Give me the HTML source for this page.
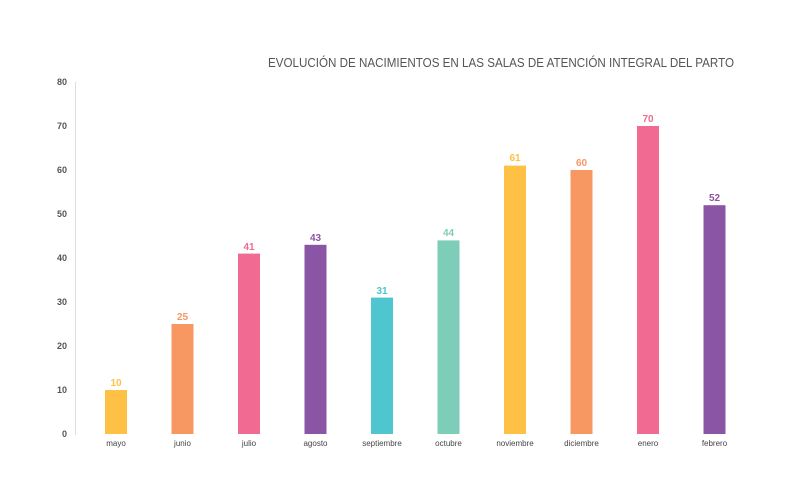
<!DOCTYPE html>
<html><head><meta charset="utf-8"><style>
html,body{margin:0;padding:0;background:#fff;}
svg{display:block;font-family:"Liberation Sans",sans-serif;}
</style></head><body>
<svg width="800" height="503" viewBox="0 0 800 503" xmlns="http://www.w3.org/2000/svg">
<text x="501" y="67" text-anchor="middle" font-size="13" fill="#555" textLength="466" lengthAdjust="spacingAndGlyphs">EVOLUCIÓN DE NACIMIENTOS EN LAS SALAS DE ATENCIÓN INTEGRAL DEL PARTO</text>
<line x1="75.5" y1="82" x2="75.5" y2="435" stroke="#ddd" stroke-width="1"/>
<g font-size="9" fill="#555" text-anchor="end" font-weight="bold">
<text x="67" y="437">0</text><text x="67" y="393">10</text><text x="67" y="349">20</text><text x="67" y="305">30</text><text x="67" y="261">40</text><text x="67" y="217">50</text><text x="67" y="173">60</text><text x="67" y="129">70</text><text x="67" y="85">80</text>
</g>
<g>
<rect x="105" y="390" width="22" height="44" fill="#FFC145"/>
<rect x="171.5" y="324" width="22" height="110" fill="#F79862"/>
<rect x="238" y="253.6" width="22" height="180.4" fill="#F06A91"/>
<rect x="304.5" y="244.8" width="22" height="189.2" fill="#8B55A6"/>
<rect x="371" y="297.6" width="22" height="136.4" fill="#4EC5CF"/>
<rect x="437.5" y="240.4" width="22" height="193.6" fill="#7ECDB8"/>
<rect x="504" y="165.6" width="22" height="268.4" fill="#FFC145"/>
<rect x="570.5" y="170" width="22" height="264" fill="#F79862"/>
<rect x="637" y="126" width="22" height="308" fill="#F06A91"/>
<rect x="703.5" y="205.2" width="22" height="228.8" fill="#8B55A6"/>
</g>
<g font-size="10" text-anchor="middle" font-weight="bold">
<text x="116" y="386" fill="#FFC145">10</text>
<text x="182.5" y="320" fill="#F79862">25</text>
<text x="249" y="250" fill="#F06A91">41</text>
<text x="315.5" y="241" fill="#8B55A6">43</text>
<text x="382" y="294" fill="#4EC5CF">31</text>
<text x="448.5" y="236" fill="#7ECDB8">44</text>
<text x="515" y="161" fill="#FFC145">61</text>
<text x="581.5" y="166" fill="#F79862">60</text>
<text x="648" y="122" fill="#F06A91">70</text>
<text x="714.5" y="201" fill="#8B55A6">52</text>
</g>
<g font-size="8" fill="#444" text-anchor="middle">
<text x="116" y="446">mayo</text><text x="182.5" y="446">junio</text><text x="249" y="446">julio</text><text x="315.5" y="446">agosto</text><text x="382" y="446">septiembre</text><text x="448.5" y="446">octubre</text><text x="515" y="446">noviembre</text><text x="581.5" y="446">diciembre</text><text x="648" y="446">enero</text><text x="714.5" y="446">febrero</text>
</g>
</svg>
</body></html>
